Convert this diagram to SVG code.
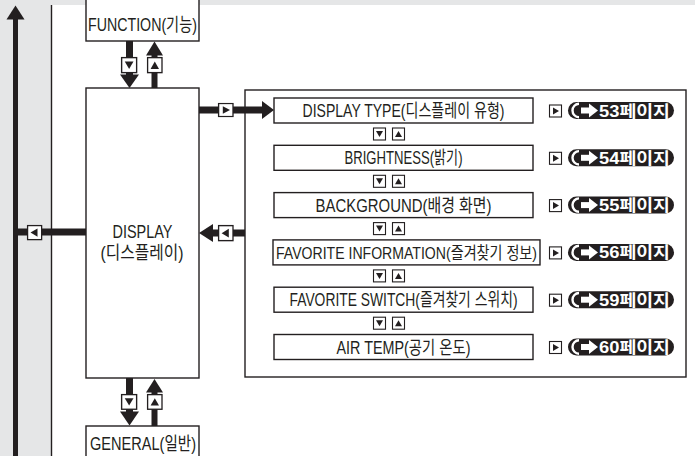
<svg xmlns="http://www.w3.org/2000/svg" xmlns:xlink="http://www.w3.org/1999/xlink" width="695" height="456" viewBox="0 0 695 456">
<style>
.box{fill:#fff;stroke:#231f20;stroke-width:1.4}
.t{font-family:"Liberation Sans","Noto Sans CJK KR",sans-serif;font-size:18.5px;fill:#231f20;text-anchor:middle}
.sm{font-size:16.5px}
.pt{font-family:"Liberation Sans","Noto Sans CJK KR",sans-serif;font-size:16px;font-weight:bold;fill:#fff}
.ib{fill:#fff;stroke:#231f20;stroke-width:1.1}
.k{fill:#231f20}
.pill{fill:#231f20}
.w{fill:#fff}
</style>
<defs>
<g id="dn"><rect class="ib" x="0.5" y="0.5" width="12" height="12"/><polygon class="k" points="3,3.5 10,3.5 6.5,9.5"/></g>
<g id="up"><rect class="ib" x="0.5" y="0.5" width="12" height="12"/><polygon class="k" points="3,9.5 10,9.5 6.5,3.5"/></g>
<g id="rt"><rect class="ib" x="0.5" y="0.5" width="12" height="12"/><polygon class="k" points="4,3 4,10 10,6.5"/></g>
<g id="lt"><rect class="ib" x="0.5" y="0.5" width="12" height="12"/><polygon class="k" points="9,3 9,10 3,6.5"/></g>
<g id="badge">
<rect class="pill" x="0" y="0" width="106" height="17" rx="8.5"/>
<path d="M11,1.8 A6.5,6.7 0 0 0 11,15.2" fill="none" stroke="#fff" stroke-width="2.4"/>
<rect class="w" x="13" y="5.5" width="9" height="6"/>
<polygon class="w" points="21,1.5 30,8.5 21,15.5"/>
</g>
</defs>
<rect x="0" y="0" width="695" height="456" fill="#fff"/>
<rect x="0" y="0" width="695" height="5" fill="#e5e6e7"/>
<rect x="0" y="0" width="51" height="456" fill="#e5e6e7"/>
<line x1="51.5" y1="5" x2="51.5" y2="456" stroke="#231f20" stroke-width="1.4"/>

<g id="function">
<rect class="box" x="86" y="-5" width="113" height="46"/>
<text class="t" x="142.5" y="31" textLength="109" lengthAdjust="spacingAndGlyphs">FUNCTION(기능)</text>
</g>
<g id="display">
<rect class="box" x="86" y="88" width="113" height="290"/>
<text class="t" x="142.5" y="237.5" textLength="60" lengthAdjust="spacingAndGlyphs">DISPLAY</text>
<text class="t" x="142" y="259" textLength="83" lengthAdjust="spacingAndGlyphs">(디스플레이)</text>
</g>
<g id="general">
<rect class="box" x="86" y="426" width="113" height="40"/>
<text class="t" x="143" y="450" textLength="106" lengthAdjust="spacingAndGlyphs">GENERAL(일반)</text>
</g>
<g id="display-menu">
<rect class="box" x="245" y="90" width="441" height="287"/>
</g>
<g id="display-type">
<rect class="box" x="274" y="98" width="259" height="25"/>
<text class="t" x="403.5" y="117" textLength="202" lengthAdjust="spacingAndGlyphs">DISPLAY TYPE(디스플레이 유형)</text>
<use xlink:href="#rt" transform="translate(549,104.5)"/>
<use xlink:href="#badge" transform="translate(568,102)"/>
<text class="pt" x="599" y="116.5" textLength="71" lengthAdjust="spacingAndGlyphs">53페이지</text>
</g>
<g id="brightness">
<rect class="box" x="274" y="145.3" width="259" height="25"/>
<text class="t" x="403.5" y="164.3" textLength="118" lengthAdjust="spacingAndGlyphs">BRIGHTNESS(밝기)</text>
<use xlink:href="#rt" transform="translate(549,151.8)"/>
<use xlink:href="#badge" transform="translate(568,149.3)"/>
<text class="pt" x="599" y="163.8" textLength="71" lengthAdjust="spacingAndGlyphs">54페이지</text>
</g>
<g id="background">
<rect class="box" x="274" y="192.6" width="259" height="25"/>
<text class="t" x="403.5" y="211.6" textLength="176" lengthAdjust="spacingAndGlyphs">BACKGROUND(배경 화면)</text>
<use xlink:href="#rt" transform="translate(549,199.1)"/>
<use xlink:href="#badge" transform="translate(568,196.6)"/>
<text class="pt" x="599" y="211.1" textLength="71" lengthAdjust="spacingAndGlyphs">55페이지</text>
</g>
<g id="favorite-information">
<rect class="box" x="273" y="239.9" width="267" height="25"/>
<text class="t sm" x="406.5" y="258.9" textLength="261" lengthAdjust="spacingAndGlyphs">FAVORITE INFORMATION(즐겨찾기 정보)</text>
<use xlink:href="#rt" transform="translate(549,246.4)"/>
<use xlink:href="#badge" transform="translate(568,243.9)"/>
<text class="pt" x="599" y="258.4" textLength="71" lengthAdjust="spacingAndGlyphs">56페이지</text>
</g>
<g id="favorite-switch">
<rect class="box" x="274" y="287.2" width="259" height="25"/>
<text class="t" x="403.5" y="306.2" textLength="228" lengthAdjust="spacingAndGlyphs">FAVORITE SWITCH(즐겨찾기 스위치)</text>
<use xlink:href="#rt" transform="translate(549,293.7)"/>
<use xlink:href="#badge" transform="translate(568,291.2)"/>
<text class="pt" x="599" y="305.7" textLength="71" lengthAdjust="spacingAndGlyphs">59페이지</text>
</g>
<g id="air-temp">
<rect class="box" x="274" y="334.5" width="259" height="25"/>
<text class="t" x="403.5" y="353.5" textLength="134" lengthAdjust="spacingAndGlyphs">AIR TEMP(공기 온도)</text>
<use xlink:href="#rt" transform="translate(549,341)"/>
<use xlink:href="#badge" transform="translate(568,338.5)"/>
<text class="pt" x="599" y="353" textLength="71" lengthAdjust="spacingAndGlyphs">60페이지</text>
</g>

<g id="connectors">
<rect class="k" x="13" y="18" width="5" height="440"/>
<polygon class="k" points="6.5,19.5 15.5,5.5 24.5,19.5"/>
<rect class="k" x="15" y="228.5" width="71" height="7"/>
<use xlink:href="#lt" transform="translate(27,225) scale(1.17,1.17)"/>

<rect class="k" x="126" y="41" width="7" height="34"/>
<polygon class="k" points="120,74.5 139,74.5 129.5,88"/>
<use xlink:href="#dn" transform="translate(121,57) scale(1.25,1.25)"/>
<rect class="k" x="151.5" y="54" width="6" height="34"/>
<polygon class="k" points="146,55.5 163,55.5 154.5,41.5"/>
<use xlink:href="#up" transform="translate(147,57) scale(1.2,1.25)"/>

<rect class="k" x="126" y="378" width="7" height="34"/>
<polygon class="k" points="120,411.5 139,411.5 129.5,425.5"/>
<use xlink:href="#dn" transform="translate(121,394) scale(1.25,1.22)"/>
<rect class="k" x="151.5" y="391" width="6" height="35"/>
<polygon class="k" points="146,392.5 163,392.5 154.5,379"/>
<use xlink:href="#up" transform="translate(147,394) scale(1.2,1.22)"/>

<rect class="k" x="199" y="106.5" width="64" height="7"/>
<polygon class="k" points="262,101 262,119 274,110"/>
<use xlink:href="#rt" transform="translate(218,103) scale(1.2,1.08)"/>

<rect class="k" x="211" y="229.5" width="34" height="7"/>
<polygon class="k" points="213,224 213,242 199,233"/>
<use xlink:href="#lt" transform="translate(218,225) scale(1.2,1.25)"/>

<use xlink:href="#dn" transform="translate(373,127.5)"/>
<use xlink:href="#up" transform="translate(392,127.5)"/>
<use xlink:href="#dn" transform="translate(373,174.8)"/>
<use xlink:href="#up" transform="translate(392,174.8)"/>
<use xlink:href="#dn" transform="translate(373,222.1)"/>
<use xlink:href="#up" transform="translate(392,222.1)"/>
<use xlink:href="#dn" transform="translate(373,269.4)"/>
<use xlink:href="#up" transform="translate(392,269.4)"/>
<use xlink:href="#dn" transform="translate(373,316.7)"/>
<use xlink:href="#up" transform="translate(392,316.7)"/>
</g>
</svg>
